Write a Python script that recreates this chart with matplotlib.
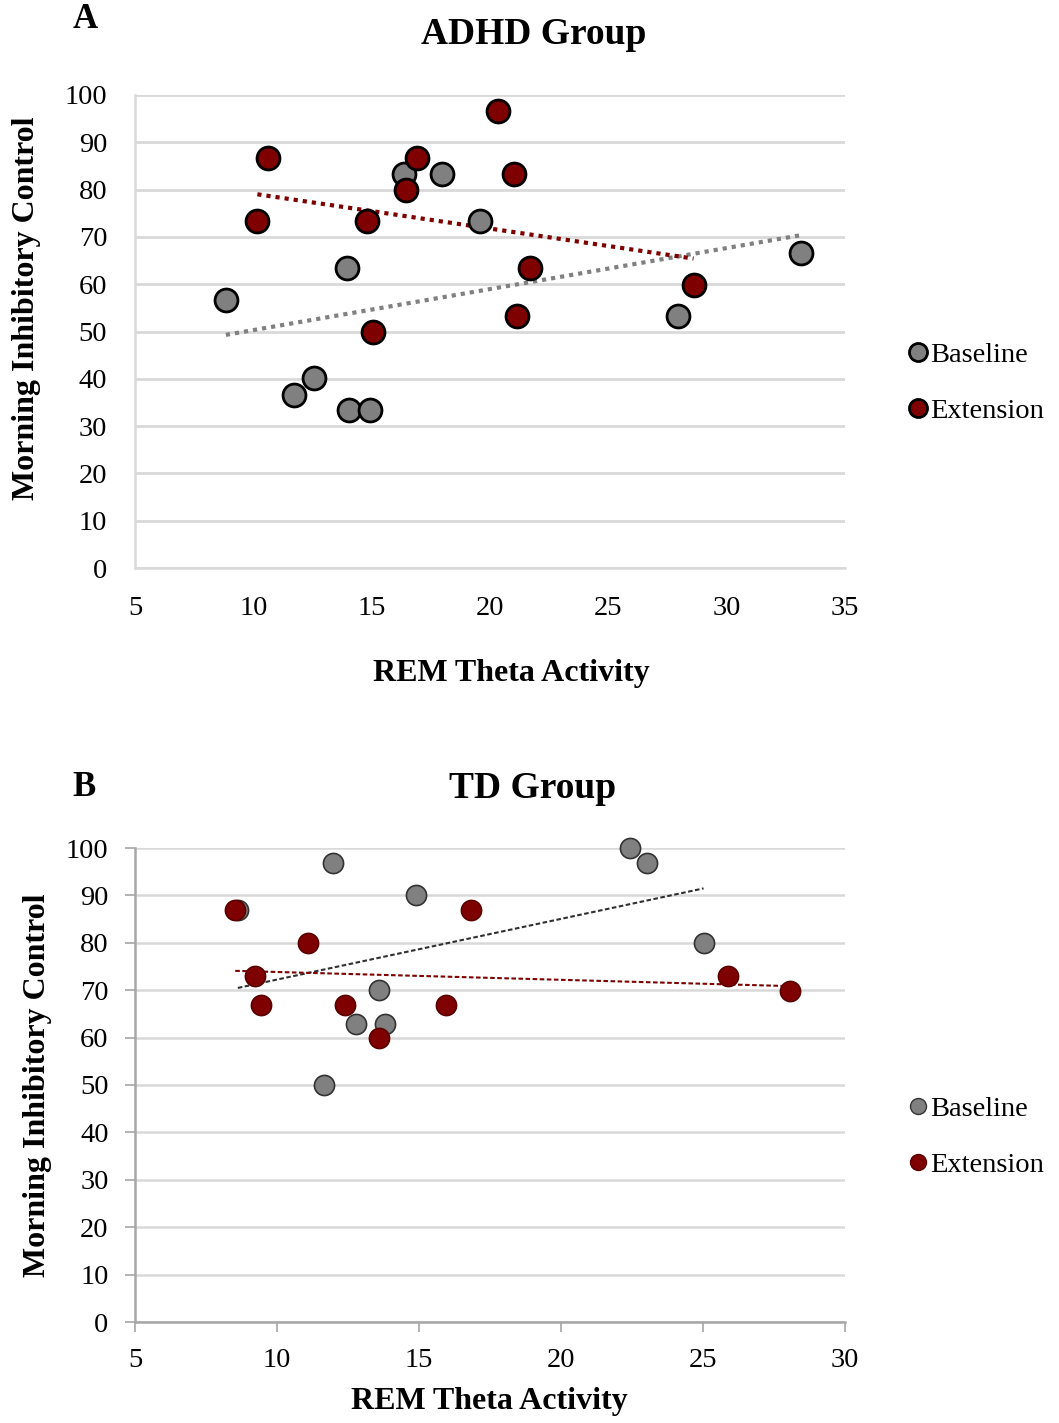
import numpy as np
import matplotlib
matplotlib.use("Agg")
import matplotlib.pyplot as plt
from matplotlib.lines import Line2D

plt.rcParams['font.family'] = ['Liberation Serif', 'DejaVu Serif']

# ---- Data ----
adhd_base_x = [8.84, 13.97, 12.55, 11.73, 14.03, 14.95, 16.37, 17.99, 19.57, 27.93, 33.16]
adhd_base_y = [56.7, 63.4, 40.1, 36.6, 33.3, 33.3, 83.4, 83.4, 73.4, 53.3, 66.7]
adhd_ext_x = [20.33, 10.6, 16.9, 21.03, 16.47, 10.17, 14.79, 21.67, 28.6, 21.15, 15.05]
adhd_ext_y = [96.7, 86.7, 86.7, 83.4, 79.9, 73.4, 73.4, 63.4, 59.8, 53.3, 49.8]

td_base_x = [11.97, 14.9, 8.62, 22.44, 23.04, 25.02, 13.59, 12.78, 13.82, 11.67]
td_base_y = [96.9, 90.0, 87.0, 100.0, 96.9, 80.0, 70.0, 62.9, 62.9, 49.9]
td_ext_x = [8.53, 11.08, 16.84, 9.22, 9.45, 12.38, 15.94, 13.59, 25.87, 28.07]
td_ext_y = [86.9, 79.9, 86.9, 72.9, 66.9, 66.9, 66.9, 59.9, 72.9, 69.9]

series_labels = ["Baseline", "Extension"]
y_ticks = list(range(0, 101, 10))
adhd_x_ticks = [5, 10, 15, 20, 25, 30, 35]
td_x_ticks = [5, 10, 15, 20, 25, 30]

GRAY = "#808080"
RED = "#7F0000"

W, H = 1059, 1423
fig = plt.figure(figsize=(W / 100, H / 100), dpi=100)


def fx(px):
    return px / W


def fy(py):
    return 1 - py / H


def trend(ax, x, y, **kw):
    x = np.asarray(x)
    y = np.asarray(y)
    m, b = np.polyfit(x, y, 1)
    xs = np.array([x.min(), x.max()])
    ax.plot(xs, m * xs + b, zorder=2, **kw)


def setup(ax, xticks, xlim, spine_col, ticks_visible):
    ax.set_xlim(*xlim)
    ax.set_ylim(0, 100)
    ax.set_yticks(y_ticks)
    ax.set_xticks(xticks)
    ax.grid(axis='y', color='#D9D9D9', linewidth=2 if not ticks_visible else 1.8)
    ax.set_axisbelow(True)
    for s in ['top', 'right']:
        ax.spines[s].set_visible(False)
    for s in ['left', 'bottom']:
        ax.spines[s].set_color(spine_col)
        ax.spines[s].set_linewidth(1.8)
    ax.tick_params(labelsize=20.5, colors='black', pad=20 if not ticks_visible else 12,
                   length=0 if not ticks_visible else 7, width=1.2, color=spine_col)


# ---- Panel A ----
axA = fig.add_axes([fx(135), fy(568), fx(710), 473 / H])
setup(axA, adhd_x_ticks, (5, 35), '#D9D9D9', False)
trend(axA, adhd_base_x, adhd_base_y, color=GRAY, linewidth=3, linestyle=(0, (1, 1.2)))
trend(axA, adhd_ext_x, adhd_ext_y, color=RED, linewidth=3, linestyle=(0, (1, 1.2)))
axA.plot(adhd_base_x, adhd_base_y, 'o', ms=16.5, mfc=GRAY, mec='black', mew=2, zorder=3, clip_on=False)
axA.plot(adhd_ext_x, adhd_ext_y, 'o', ms=16.5, mfc=RED, mec='black', mew=2, zorder=4, clip_on=False)

hA = [Line2D([], [], marker='o', ls='none', ms=13, mfc=GRAY, mec='black', mew=2),
      Line2D([], [], marker='o', ls='none', ms=13, mfc=RED, mec='black', mew=2)]
fig.legend(hA, series_labels, loc='center left', bbox_to_anchor=(fx(909), fy(383)),
           frameon=False, fontsize=20.5, handlelength=0.6, handletextpad=0.15,
           labelspacing=1.05, borderpad=0, borderaxespad=0)

fig.text(fx(534), fy(35), "ADHD Group", ha='center', va='center', fontsize=27, fontweight='bold')
fig.text(fx(85), fy(20), "A", ha='center', va='center', fontsize=25, fontweight='bold')
fig.text(fx(511), fy(673), "REM Theta Activity", ha='center', va='center', fontsize=23, fontweight='bold')
fig.text(fx(27), fy(308), "Morning Inhibitory Control", ha='center', va='center', fontsize=23,
         fontweight='bold', rotation=90)

# ---- Panel B ----
axB = fig.add_axes([fx(135), fy(1322), fx(710), 474 / H])
setup(axB, td_x_ticks, (5, 30), '#A6A6A6', True)
trend(axB, td_base_x, td_base_y, color='#303030', linewidth=1.5, linestyle=(0, (2.2, 1.2)))
trend(axB, td_ext_x, td_ext_y, color=RED, linewidth=1.5, linestyle=(0, (2.2, 1.2)))
axB.plot(td_base_x, td_base_y, 'o', ms=14.5, mfc=GRAY, mec='#333333', mew=1.2, zorder=3, clip_on=False)
axB.plot(td_ext_x, td_ext_y, 'o', ms=14.5, mfc=RED, mec='#5a0000', mew=1.2, zorder=4, clip_on=False)

hB = [Line2D([], [], marker='o', ls='none', ms=11.5, mfc=GRAY, mec='#333333', mew=1),
      Line2D([], [], marker='o', ls='none', ms=11.5, mfc=RED, mec='#5a0000', mew=1)]
fig.legend(hB, series_labels, loc='center left', bbox_to_anchor=(fx(909), fy(1137)),
           frameon=False, fontsize=20.5, handlelength=0.6, handletextpad=0.15,
           labelspacing=1.05, borderpad=0, borderaxespad=0)

fig.text(fx(533), fy(788), "TD Group", ha='center', va='center', fontsize=27, fontweight='bold')
fig.text(fx(84), fy(788), "B", ha='center', va='center', fontsize=25, fontweight='bold')
fig.text(fx(489), fy(1402), "REM Theta Activity", ha='center', va='center', fontsize=23, fontweight='bold')
fig.text(fx(38), fy(1085), "Morning Inhibitory Control", ha='center', va='center', fontsize=23,
         fontweight='bold', rotation=90)

fig.savefig("out.png", dpi=100)
